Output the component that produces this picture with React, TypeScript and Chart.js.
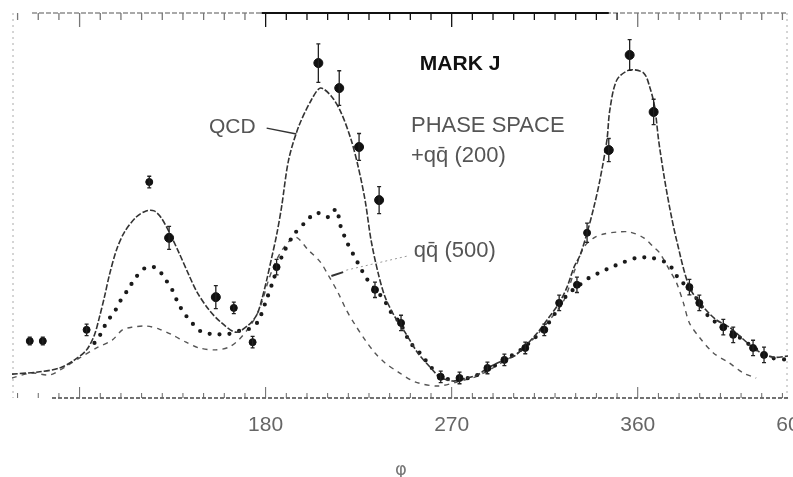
import React, { useEffect, useRef } from "react";
import { Chart, registerables } from "chart.js";

Chart.register(...registerables);

// axis range (degrees) and arbitrary energy-flow units
const X_MIN = 57.3;
const X_MAX = 432.7;
const Y_MIN = 0;
const Y_MAX = 10;

// QCD prediction (dash-dot line)
const QCD_X = [57.3, 70.7, 80.4, 87.6, 93.4, 97.2, 99.6, 102.0, 104.4, 107.8, 111.7, 117.4, 122.2, 126.1, 129.5, 133.3, 138.1, 142.9, 146.8, 152.6, 158.3, 165.6, 171.8, 175.7, 178.1, 180.5, 182.9, 185.3, 187.7, 191.1, 195.9, 202.1, 206.5, 211.8, 216.6, 221.4, 224.8, 228.1, 231.0, 234.4, 237.8, 242.6, 247.4, 253.6, 259.4, 264.2, 270.5, 275.3, 282.5, 287.3, 295.5, 300.3, 305.1, 311.4, 316.2, 322.0, 325.8, 329.2, 332.1, 335.5, 338.8, 341.7, 345.1, 346.5, 349.9, 356.1, 362.9, 365.8, 368.2, 370.1, 372.5, 375.4, 378.8, 385.0, 391.8, 398.0, 404.3, 417.3, 425.5, 432.7];
const QCD_Y = [0.62, 0.68, 0.78, 0.99, 1.25, 1.64, 2.10, 2.62, 3.19, 3.84, 4.31, 4.70, 4.86, 4.86, 4.68, 4.31, 3.77, 3.19, 2.75, 2.29, 1.97, 1.71, 1.90, 2.16, 2.55, 3.06, 3.64, 4.23, 4.96, 6.18, 7.04, 7.74, 8.05, 7.84, 7.40, 6.70, 6.00, 5.14, 4.10, 3.25, 2.62, 2.10, 1.71, 1.17, 0.81, 0.55, 0.44, 0.49, 0.60, 0.78, 0.99, 1.09, 1.32, 1.69, 2.03, 2.47, 2.88, 3.40, 3.71, 4.29, 4.96, 5.66, 6.70, 7.48, 8.26, 8.52, 8.44, 8.08, 7.56, 6.70, 5.84, 4.96, 4.10, 2.88, 2.36, 2.03, 1.84, 1.25, 1.06, 1.09];

// phase space + qq̄ (200) (heavy dots)
const PS_X = [97.2, 98.7, 100.6, 103.5, 106.8, 109.7, 113.6, 117.0, 121.8, 127.1, 131.4, 134.8, 137.6, 140.5, 144.4, 149.2, 155.0, 161.7, 167.0, 171.8, 176.1, 180.0, 183.4, 187.7, 193.5, 199.3, 204.5, 210.3, 214.2, 216.1, 219.5, 222.8, 225.7, 228.6, 232.9, 237.3, 240.6, 245.0, 249.8, 254.6, 259.9, 264.7, 272.9, 282.5, 295.5, 305.1, 316.2, 325.8, 330.6, 336.4, 341.2, 346.5, 353.3, 359.5, 366.7, 374.0, 377.3, 380.2, 385.0, 389.8, 394.6, 401.4, 406.2, 415.8, 423.5, 432.7];
const PS_Y = [1.43, 1.51, 1.71, 2.00, 2.23, 2.52, 2.83, 3.12, 3.38, 3.38, 3.09, 2.81, 2.47, 2.21, 1.95, 1.71, 1.66, 1.66, 1.74, 1.79, 1.97, 2.49, 3.01, 3.66, 4.23, 4.57, 4.81, 4.70, 4.91, 4.49, 4.03, 3.69, 3.40, 3.12, 2.83, 2.55, 2.23, 1.95, 1.45, 1.17, 0.81, 0.55, 0.47, 0.60, 0.99, 1.32, 1.90, 2.68, 2.88, 3.12, 3.25, 3.38, 3.53, 3.64, 3.64, 3.51, 3.32, 3.06, 2.86, 2.47, 2.10, 1.84, 1.69, 1.32, 1.06, 0.99];

// qq̄ (500) (dashed)
const QQ_X = [57.3, 66.9, 75.6, 83.7, 90.0, 98.2, 105.9, 110.7, 115.5, 122.2, 128.5, 134.8, 141.5, 147.8, 155.9, 162.2, 167.0, 171.8, 175.7, 178.6, 181.4, 184.8, 188.7, 194.4, 200.7, 206.5, 210.3, 215.1, 219.0, 223.3, 228.1, 232.9, 237.8, 244.0, 252.2, 263.3, 272.9, 282.5, 295.5, 305.1, 316.2, 324.4, 329.2, 334.0, 338.8, 343.6, 349.9, 356.1, 362.9, 367.7, 370.6, 375.4, 378.8, 382.1, 385.0, 389.8, 396.6, 404.3, 411.1, 417.3];
const QQ_Y = [0.52, 0.65, 0.60, 0.83, 1.04, 1.30, 1.51, 1.77, 1.84, 1.87, 1.79, 1.64, 1.45, 1.30, 1.25, 1.32, 1.51, 1.82, 2.16, 2.55, 3.06, 3.53, 3.90, 4.18, 3.84, 3.53, 3.19, 2.73, 2.29, 1.90, 1.51, 1.17, 0.91, 0.68, 0.42, 0.31, 0.42, 0.57, 0.96, 1.30, 1.95, 2.55, 3.27, 3.92, 4.16, 4.26, 4.31, 4.31, 4.16, 3.92, 3.77, 3.32, 2.99, 2.47, 1.95, 1.58, 1.17, 0.91, 0.65, 0.52];

// measured data points with errors
const DATA_X = [65.9, 72.2, 93.4, 123.7, 133.3, 155.9, 164.6, 173.7, 185.3, 205.5, 215.6, 225.2, 234.9, 232.9, 245.5, 264.7, 273.8, 287.3, 295.5, 305.6, 314.8, 322.0, 330.6, 335.5, 346.0, 356.1, 367.7, 385.0, 389.8, 401.4, 406.2, 415.8, 421.1];
const DATA_Y = [1.48, 1.48, 1.77, 5.61, 4.16, 2.62, 2.34, 1.45, 3.40, 8.70, 8.05, 6.52, 5.14, 2.81, 1.95, 0.55, 0.52, 0.78, 0.99, 1.30, 1.77, 2.47, 2.94, 4.29, 6.44, 8.91, 7.43, 2.88, 2.47, 1.84, 1.64, 1.30, 1.12];
const DATA_ERR = [0.1, 0.1, 0.15, 0.15, 0.3, 0.3, 0.15, 0.15, 0.2, 0.5, 0.45, 0.35, 0.35, 0.2, 0.2, 0.15, 0.15, 0.15, 0.15, 0.15, 0.15, 0.2, 0.2, 0.25, 0.3, 0.4, 0.33, 0.2, 0.2, 0.2, 0.2, 0.2, 0.2];

// bottom axis labels
const TICK_VALUES = [180, 270, 360, 432.7];
const TICK_LABELS = ["180", "270", "360", "60"];

const pts = (xs: number[], ys: number[]) => xs.map((x, i) => ({ x, y: ys[i] }));

const framePlugin = {
  id: "frame",
  beforeDatasetsDraw(chart: any) {
    const { ctx, chartArea, scales } = chart;
    const xs = scales.x;
    const top = chartArea.top;
    const bottom = chartArea.bottom;
    ctx.save();
    ctx.strokeStyle = "#aaa";
    ctx.lineWidth = 1;
    ctx.setLineDash([2, 4]);
    ctx.beginPath();
    ctx.moveTo(chartArea.left + 1, top);
    ctx.lineTo(chartArea.left + 1, bottom);
    ctx.moveTo(chartArea.right - 1, top);
    ctx.lineTo(chartArea.right - 1, bottom);
    ctx.stroke();
    ctx.setLineDash([5, 2]);
    ctx.strokeStyle = "#555";
    ctx.lineWidth = 1.2;
    ctx.beginPath();
    ctx.moveTo(chartArea.left + 20, top);
    ctx.lineTo(chartArea.right, top);
    ctx.stroke();
    ctx.setLineDash([]);
    ctx.strokeStyle = "#111";
    ctx.lineWidth = 2;
    ctx.beginPath();
    ctx.moveTo(xs.getPixelForValue(178), top);
    ctx.lineTo(xs.getPixelForValue(346), top);
    ctx.stroke();
    ctx.setLineDash([4, 2]);
    ctx.strokeStyle = "#444";
    ctx.lineWidth = 1.3;
    ctx.beginPath();
    ctx.moveTo(chartArea.left + 40, bottom);
    ctx.lineTo(chartArea.right, bottom);
    ctx.stroke();
    ctx.setLineDash([]);
    for (let v = 60; v <= 430; v += 10) {
      const x = xs.getPixelForValue(v);
      const major = v % 90 === 0;
      ctx.strokeStyle = v >= 175 && v <= 350 ? "#111" : "#777";
      ctx.lineWidth = 1.3;
      ctx.beginPath();
      ctx.moveTo(x, top);
      ctx.lineTo(x, top + (major ? 14 : 7));
      ctx.stroke();
      ctx.strokeStyle = "#666";
      ctx.lineWidth = 1;
      ctx.beginPath();
      ctx.moveTo(x, bottom);
      ctx.lineTo(x, bottom - (major ? 11 : 5));
      ctx.stroke();
    }
    ctx.restore();
  },
  afterDatasetsDraw(chart: any) {
    const { ctx, scales } = chart;
    const xs = scales.x;
    const ys = scales.y;
    ctx.save();
    ctx.strokeStyle = "#222";
    ctx.lineWidth = 1.3;
    DATA_X.forEach((x, i) => {
      const px = xs.getPixelForValue(x);
      const y1 = ys.getPixelForValue(DATA_Y[i] + DATA_ERR[i]);
      const y2 = ys.getPixelForValue(DATA_Y[i] - DATA_ERR[i]);
      ctx.beginPath();
      ctx.moveTo(px, y1);
      ctx.lineTo(px, y2);
      ctx.moveTo(px - 2, y1);
      ctx.lineTo(px + 2, y1);
      ctx.moveTo(px - 2, y2);
      ctx.lineTo(px + 2, y2);
      ctx.stroke();
    });
    const at = (dx: number, dy: number) => [xs.getPixelForValue(dx), ys.getPixelForValue(dy)];
    ctx.textBaseline = "alphabetic";
    ctx.textAlign = "left";
    ctx.fillStyle = "#111";
    ctx.font = "bold 21px 'Liberation Sans', Arial, sans-serif";
    let p = at(254.6, 8.52);
    ctx.fillText("MARK J", p[0], p[1]);
    ctx.fillStyle = "#555";
    ctx.font = "21px 'Liberation Sans', Arial, sans-serif";
    p = at(152.6, 6.88);
    ctx.fillText("QCD", p[0], p[1]);
    ctx.font = "22px 'Liberation Sans', Arial, sans-serif";
    p = at(250.3, 6.91);
    ctx.fillText("PHASE SPACE", p[0], p[1]);
    p = at(250.3, 6.13);
    ctx.fillText("+qq\u0304 (200)", p[0], p[1]);
    p = at(251.7, 3.66);
    ctx.fillText("qq\u0304 (500)", p[0], p[1]);
    ctx.strokeStyle = "#333";
    ctx.lineWidth = 1.5;
    let a = at(180.5, 7.01);
    let b = at(194.9, 6.86);
    ctx.beginPath();
    ctx.moveTo(a[0], a[1]);
    ctx.lineTo(b[0], b[1]);
    ctx.stroke();
    a = at(211.8, 3.17);
    b = at(217.5, 3.27);
    ctx.lineWidth = 2;
    ctx.beginPath();
    ctx.moveTo(a[0], a[1]);
    ctx.lineTo(b[0], b[1]);
    ctx.stroke();
    ctx.strokeStyle = "#999";
    ctx.lineWidth = 1;
    ctx.setLineDash([2, 3]);
    a = at(219.0, 3.32);
    b = at(248.8, 3.69);
    ctx.beginPath();
    ctx.moveTo(a[0], a[1]);
    ctx.lineTo(b[0], b[1]);
    ctx.stroke();
    ctx.setLineDash([]);
    ctx.fillStyle = "#666";
    ctx.font = "21px 'Liberation Sans', Arial, sans-serif";
    ctx.textAlign = "center";
    ctx.textBaseline = "middle";
    TICK_VALUES.forEach((v, i) => {
      const q = at(v, -0.7);
      ctx.fillText(TICK_LABELS[i], q[0], q[1]);
    });
    ctx.fillStyle = "#777";
    ctx.font = "18px 'DejaVu Sans', sans-serif";
    p = at(245.5, -1.87);
    ctx.fillText("\u03c6", p[0], p[1]);
    ctx.restore();
  },
};

export default function App() {
  const ref = useRef<HTMLCanvasElement | null>(null);
  useEffect(() => {
    if (!ref.current) return;
    const chart = new Chart(ref.current, {
      type: "line",
      data: {
        datasets: [
          {
            label: "Data",
            data: pts(DATA_X, DATA_Y),
            showLine: false,
            pointRadius: (c: any) => (DATA_ERR[c.dataIndex] > 0.25 ? 4.5 : 3.5),
            pointBackgroundColor: "#111",
            pointBorderColor: "#111",
            pointBorderWidth: 1,
          },
          {
            label: "QCD",
            data: pts(QCD_X, QCD_Y),
            borderColor: "#333",
            borderWidth: 1.6,
            borderDash: [6, 2],
            pointRadius: 0,
            tension: 0.3,
          },
          {
            label: "Phase space + qq\u0304 (200)",
            data: pts(PS_X, PS_Y),
            borderColor: "#1a1a1a",
            borderWidth: 4.2,
            borderDash: [0, 10],
            borderCapStyle: "round",
            pointRadius: 0,
            tension: 0.3,
          },
          {
            label: "qq\u0304 (500)",
            data: pts(QQ_X, QQ_Y),
            borderColor: "#555",
            borderWidth: 1.4,
            borderDash: [5, 5],
            pointRadius: 0,
            tension: 0.3,
          },
        ],
      },
      options: {
        animation: false,
        responsive: true,
        maintainAspectRatio: false,
        layout: { padding: { left: 12, right: 1, top: 13, bottom: 79 } },
        scales: {
          x: { type: "linear", min: X_MIN, max: X_MAX, display: false },
          y: { type: "linear", min: Y_MIN, max: Y_MAX, display: false },
        },
        plugins: { legend: { display: false }, tooltip: { enabled: false } },
      },
      plugins: [framePlugin],
    } as any);
    return () => chart.destroy();
  }, []);
  return (
    <div style={{ position: "fixed", left: 0, top: 0, width: 793, height: 477, background: "#fff" }}>
      <canvas ref={ref} />
    </div>
  );
}
